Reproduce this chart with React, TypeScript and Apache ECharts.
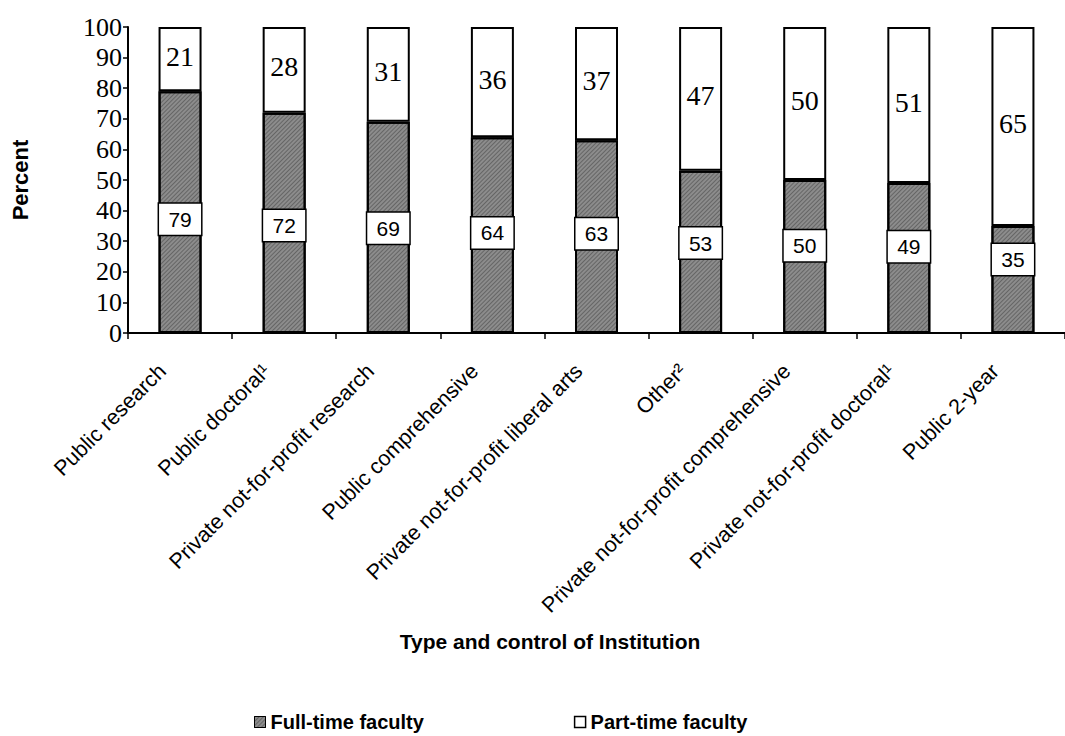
import React, { useEffect, useRef } from "react";
import * as echarts from "echarts";

const categories = [
  "Public research",
  "Public doctoral\u00b9",
  "Private not-for-profit research",
  "Public comprehensive",
  "Private not-for-profit liberal arts",
  "Other\u00b2",
  "Private not-for-profit comprehensive",
  "Private not-for-profit doctoral\u00b9",
  "Public 2-year",
];
const fullTime = [79, 72, 69, 64, 63, 53, 50, 49, 35];
const partTime = [21, 28, 31, 36, 37, 47, 50, 51, 65];
const yTicks = [0, 10, 20, 30, 40, 50, 60, 70, 80, 90, 100];

const SANS = "'Liberation Sans', Arial, Helvetica, sans-serif";
const SERIF = "'Liberation Serif', 'Times New Roman', serif";

const fullDecal = {
  symbol: "rect",
  symbolSize: 1,
  dashArrayX: [1, 0],
  dashArrayY: [1, 2],
  rotation: -Math.PI / 4,
  color: "rgba(0,0,0,0.28)",
};

export default function App() {
  const ref = useRef<HTMLDivElement>(null);
  useEffect(() => {
    if (!ref.current) return;
    const chart = echarts.init(ref.current, null, { renderer: "svg" });
    // full-time label box sits a bit below the middle of the full-time segment
    const fullData = fullTime.map((v) => {
      const center = 0.3 * v + 13.5;
      const pct = ((v - center) / v) * 100;
      return {
        value: v,
        label: { position: ["50%", pct + "%"] },
      };
    });
    chart.setOption({
      animation: false,
      backgroundColor: "#ffffff",
      grid: { left: 128, top: 27, width: 948, height: 306 },
      title: {
        text: "Type and control of Institution",
        left: 545,
        top: 626,
        textAlign: "center",
        textStyle: { fontFamily: SANS, fontWeight: "bold", fontSize: 21, color: "#000" },
      },
      legend: {
        left: 249,
        top: 707,
        itemWidth: 11,
        itemHeight: 11,
        itemGap: 150,
        textStyle: { fontFamily: SANS, fontWeight: "bold", fontSize: 20, color: "#000" },
        data: [
          {
            name: "Full-time faculty",
            icon: "rect",
            itemStyle: { color: "#8c8c8c", borderColor: "#000", borderWidth: 1, decal: fullDecal },
          },
          {
            name: "Part-time faculty",
            icon: "rect",
            itemStyle: { color: "#fff", borderColor: "#000", borderWidth: 1.5 },
          },
        ],
      },
      xAxis: {
        type: "category",
        data: categories,
        axisLine: { show: true, lineStyle: { color: "#000", width: 2 } },
        axisTick: { show: true, length: 6, interval: 0, lineStyle: { color: "#000", width: 1.5 } },
        axisLabel: {
          interval: 0,
          rotate: 45,
          margin: 17,
          padding: [0, 25, 0, 0],
          fontFamily: SANS,
          fontSize: 21.5,
          color: "#000",
        },
        splitLine: { show: false },
      },
      yAxis: {
        type: "value",
        min: yTicks[0],
        max: yTicks[yTicks.length - 1],
        interval: 10,
        name: "Percent",
        nameLocation: "middle",
        nameRotate: 90,
        nameGap: 97,
        nameTextStyle: { fontFamily: SANS, fontWeight: "bold", fontSize: 22, color: "#000" },
        axisLine: { show: true, lineStyle: { color: "#000", width: 2 } },
        axisTick: { show: true, length: 5, lineStyle: { color: "#000", width: 1.5 } },
        axisLabel: { margin: 6, fontFamily: SERIF, fontSize: 26, color: "#000" },
        splitLine: { show: false },
      },
      series: [
        {
          name: "Full-time faculty",
          type: "bar",
          stack: "total",
          barWidth: 43,
          data: fullData,
          itemStyle: { color: "#8c8c8c", borderColor: "#000", borderWidth: 2, decal: fullDecal },
          label: {
            show: true,
            align: "center",
            verticalAlign: "middle",
            fontFamily: SANS,
            fontSize: 21,
            color: "#000",
            backgroundColor: "#fff",
            borderColor: "#000",
            borderWidth: 1.5,
            width: 42,
            lineHeight: 30,
            padding: [1, 0, 0, 0],
          },
        },
        {
          name: "Part-time faculty",
          type: "bar",
          stack: "total",
          barWidth: 43,
          data: partTime,
          itemStyle: { color: "#fff", borderColor: "#000", borderWidth: 2 },
          label: {
            show: true,
            position: "inside",
            offset: [0, -3],
            fontFamily: SERIF,
            fontSize: 28,
            color: "#000",
          },
        },
      ],
    });
    return () => chart.dispose();
  }, []);
  return (
    <div
      ref={ref}
      style={{ position: "absolute", left: 0, top: 0, width: 1065, height: 736 }}
    />
  );
}
